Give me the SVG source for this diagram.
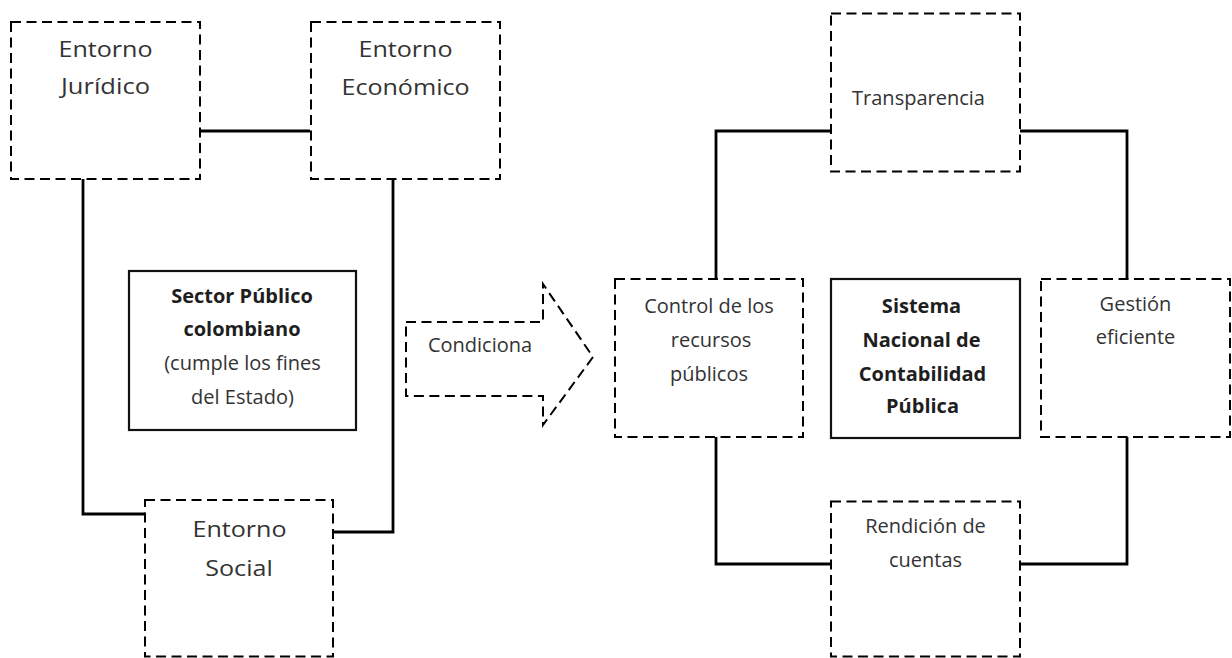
<svg xmlns="http://www.w3.org/2000/svg" width="1232" height="658" viewBox="0 0 1232 658">
<style>
  .dbox { fill: #ffffff; stroke: #000000; stroke-width: 2; stroke-dasharray: 10 5.5; }
  .sbox { fill: #ffffff; stroke: #111111; stroke-width: 2.2; }
  .conn { fill: none; stroke: #000000; stroke-width: 2.8; }
  .t { font-family: "Open Sans", "Liberation Sans", sans-serif; font-size: 20px; fill: #333333; text-anchor: middle; }
  .tb { font-family: "Open Sans", "Liberation Sans", sans-serif; font-size: 20px; font-weight: bold; fill: #1e1e1e; text-anchor: middle; }
  .tl { font-family: "Open Sans", "Liberation Sans", sans-serif; font-size: 22px; fill: #333333; text-anchor: middle; }
</style>
<rect x="0" y="0" width="1232" height="658" fill="#ffffff"/>

<g id="connectors">
  <path class="conn" d="M197,131 H310"/>
  <path class="conn" d="M83,172 V514 H146"/>
  <path class="conn" d="M393,180 V532 H332"/>
  <path class="conn" d="M831,131 H716 V279"/>
  <path class="conn" d="M1019,131 H1127 V279"/>
  <path class="conn" d="M716,437 V564 H831"/>
  <path class="conn" d="M1127,437 V564 H1019"/>
</g>

<g id="entorno-juridico">
  <rect class="dbox" x="11" y="22" width="189" height="157"/>
  <text class="tl" transform="translate(105.5 57) scale(1.14 1)">Entorno</text>
  <text class="tl" transform="translate(105.5 94) scale(1.16 1)">Jurídico</text>
</g>

<g id="entorno-economico">
  <rect class="dbox" x="311" y="22" width="189" height="157"/>
  <text class="tl" transform="translate(405.5 57) scale(1.14 1)">Entorno</text>
  <text class="tl" transform="translate(405.5 95) scale(1.14 1)">Económico</text>
</g>

<g id="entorno-social">
  <rect class="dbox" x="145" y="500" width="188" height="156.5"/>
  <text class="tl" transform="translate(239.5 537) scale(1.14 1)">Entorno</text>
  <text class="tl" transform="translate(239 576) scale(1.14 1)">Social</text>
</g>

<g id="sector-publico">
  <rect class="sbox" x="129" y="271" width="227" height="159"/>
  <text class="tb" x="242" y="303">Sector Público</text>
  <text class="tb" x="242" y="336">colombiano</text>
  <text class="t" x="242.5" y="370">(cumple los fines</text>
  <text class="t" x="242.5" y="404">del Estado)</text>
</g>

<g id="condiciona">
  <polygon class="dbox" points="406,322 543,322 543,284 593,357 543,425 543,396 406,396"/>
  <text class="t" x="480" y="352">Condiciona</text>
</g>

<g id="transparencia">
  <rect class="dbox" x="831" y="13.5" width="189" height="158"/>
  <text class="t" x="918.5" y="105">Transparencia</text>
</g>

<g id="control-recursos">
  <rect class="dbox" x="615" y="279" width="188" height="158"/>
  <text class="t" x="709" y="313">Control de los</text>
  <text class="t" x="711" y="347">recursos</text>
  <text class="t" x="709" y="380.5">públicos</text>
</g>

<g id="sistema-nacional">
  <rect class="sbox" x="831" y="279" width="189" height="159"/>
  <text class="tb" x="921.5" y="313">Sistema</text>
  <text class="tb" x="921.5" y="347">Nacional de</text>
  <text class="tb" x="922.5" y="380.5">Contabilidad</text>
  <text class="tb" x="922.5" y="413">Pública</text>
</g>

<g id="gestion-eficiente">
  <rect class="dbox" x="1041" y="279" width="189" height="158"/>
  <text class="t" x="1135.5" y="311">Gestión</text>
  <text class="t" x="1135.5" y="344">eficiente</text>
</g>

<g id="rendicion-cuentas">
  <rect class="dbox" x="831" y="501.5" width="189" height="155"/>
  <text class="t" x="925.5" y="533">Rendición de</text>
  <text class="t" x="925.5" y="567">cuentas</text>
</g>
</svg>
